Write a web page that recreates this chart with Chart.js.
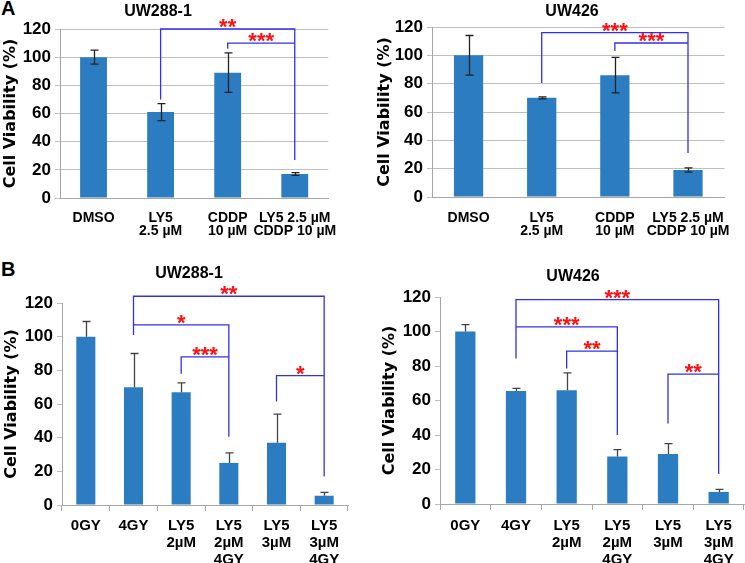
<!DOCTYPE html>
<html>
<head>
<meta charset="utf-8">
<script src="https://cdn.jsdelivr.net/npm/chart.js@4/dist/chart.umd.min.js"></script>
<style>
  body { margin: 0; background: #fff; width: 745px; height: 563px; position: relative; overflow: hidden;
         font-family: "Liberation Sans", Arial, sans-serif; }
  .panel { position: absolute; }
  .letter { position: absolute; font-weight: bold; font-size: 20px; line-height: 1; }
</style>
</head>
<body>
<div class="letter" style="left:1px;top:-2px;">A</div>
<div class="letter" style="left:1px;top:259px;">B</div>
<div class="panel" style="left:0;top:0;width:350px;height:250px"><canvas id="cA1"></canvas></div>
<div class="panel" style="left:372px;top:0;width:373px;height:250px"><canvas id="cA2"></canvas></div>
<div class="panel" style="left:0;top:250px;width:372px;height:313px"><canvas id="cB1"></canvas></div>
<div class="panel" style="left:372px;top:250px;width:373px;height:313px"><canvas id="cB2"></canvas></div>
<script>
// ---- data ----
const drugLabels = [['DMSO'], ['LY5', '2.5 µM'], ['CDDP', '10 µM'], ['LY5 2.5 µM', 'CDDP 10 µM']];
const uw288DrugMean = [100, 61, 89, 17];
const uw288DrugErr = [5, 6, 14, 1];
const uw426DrugMean = [100, 70, 86, 19];
const uw426DrugErr = [14, 0.7, 12.5, 1.5];

const radLabels = [['0GY'], ['4GY'], ['LY5', '2µM'], ['LY5', '2µM', '4GY'], ['LY5', '3µM'], ['LY5', '3µM', '4GY']];
const uw288RadMean = [100, 70, 67, 25, 37, 5.5];
const uw288RadErr = [9, 20, 5.5, 6, 17, 2];
const uw426RadMean = [100, 65.5, 66, 27.5, 29, 7];
const uw426RadErr = [4, 1.5, 10, 4, 6, 1.5];

const yTicks = [0, 20, 40, 60, 80, 100, 120];

// significance brackets: [fromIndex, toIndex, lineValue, fromEndValue, toEndValue, stars]
const uw288DrugSig = [[1, 3, 120, 70, 27, '**'], [2, 3, 110, 106, 110, '***']];
const uw426DrugSig = [[1, 3, 116, 80.5, 31, '***'], [2, 3, 108.7, 103, 108.7, '***']];
const uw288RadSig = [[1, 5, 124, 101, 17, '**'], [1, 3, 107, 107, 40.6, '*'],
                     [2, 3, 88, 78, 88, '***'], [4, 5, 76.8, 61.5, 76.8, '*']];
const uw426RadSig = [[1, 5, 118.5, 84.4, 17.4, '***'], [1, 3, 102.7, 102.7, 40, '***'],
                     [2, 3, 88.6, 78.6, 88.6, '**'], [4, 5, 75.3, 46.7, 75.3, '**']];

const FONT = '"Liberation Sans", Arial, sans-serif';
const WIDE = '"DejaVu Sans", sans-serif';
const BAR = '#2B7CC1';

const extras = {
  id: 'extras',
  afterDatasetsDraw(chart, args, o) {
    const ctx = chart.ctx, xs = chart.scales.x, ys = chart.scales.y;
    const mean = chart.data.datasets[0].data;
    ctx.save();
    // error bars
    ctx.strokeStyle = o.errColor;
    ctx.lineWidth = 1.3;
    mean.forEach((v, i) => {
      const cx = Math.round(xs.getPixelForValue(i)) + 0.5;
      const top = ys.getPixelForValue(v + o.err[i]);
      const bot = ys.getPixelForValue(o.upOnly ? v : v - o.err[i]);
      ctx.beginPath();
      ctx.moveTo(cx, top); ctx.lineTo(cx, bot);
      ctx.moveTo(cx - 4, top); ctx.lineTo(cx + 4, top);
      if (!o.upOnly) { ctx.moveTo(cx - 4, bot); ctx.lineTo(cx + 4, bot); }
      ctx.stroke();
    });
    // brackets
    ctx.strokeStyle = '#3030EE';
    ctx.lineWidth = 1.3;
    ctx.fillStyle = '#FF1010';
    ctx.font = 'bold 22px ' + FONT;
    ctx.textAlign = 'center';
    ctx.textBaseline = 'alphabetic';
    o.sig.forEach(([a, b, at, ea, eb, stars]) => {
      const xa = xs.getPixelForValue(a), xb = xs.getPixelForValue(b);
      const yl = ys.getPixelForValue(at);
      ctx.beginPath();
      ctx.moveTo(xa, ys.getPixelForValue(ea));
      ctx.lineTo(xa, yl);
      ctx.lineTo(xb, yl);
      ctx.lineTo(xb, ys.getPixelForValue(eb));
      ctx.stroke();
      ctx.fillText(stars, (xa + xb) / 2, yl + 5);
    });
    // panel title
    ctx.fillStyle = '#000';
    ctx.font = 'bold 16px ' + FONT;
    ctx.textBaseline = 'middle';
    ctx.fillText(o.title, o.tx, o.ty);
    ctx.restore();
  }
};

function makeChart(id, cfg) {
  const panelB = cfg.panelB;
  return new Chart(document.getElementById(id), {
    type: 'bar',
    data: {
      labels: cfg.labels,
      datasets: [{ data: cfg.mean, backgroundColor: BAR, borderWidth: 0,
                   categoryPercentage: 1, barPercentage: 0.4 }]
    },
    plugins: [extras],
    options: {
      responsive: true,
      maintainAspectRatio: false,
      animation: false,
      layout: { padding: cfg.pad },
      plugins: {
        legend: { display: false },
        tooltip: { enabled: false },
        extras: { err: cfg.err, sig: cfg.sig, upOnly: panelB,
                  errColor: panelB ? '#444' : '#222',
                  title: cfg.title, tx: cfg.tx, ty: cfg.ty }
      },
      scales: {
        x: {
          afterFit: s => { s.height = cfg.xh; },
          grid: { display: panelB, drawOnChartArea: false, drawTicks: panelB, tickLength: 6, color: '#A6A6A6' },
          border: { display: true, color: '#A6A6A6' },
          ticks: { color: '#000', maxRotation: 0, autoSkip: false, padding: cfg.xpad,
                   font: { family: FONT, weight: 'bold', size: panelB ? 15 : 14, lineHeight: panelB ? 1.13 : 0.98 } }
        },
        y: {
          min: 0, max: 120,
          afterFit: s => { s.width = cfg.yw; },
          afterBuildTicks: s => { s.ticks = yTicks.map(v => ({ value: v })); },
          grid: { drawOnChartArea: !panelB, color: '#BFBFBF', tickLength: 5 },
          border: { display: true, color: '#A6A6A6' },
          ticks: { color: '#000', padding: 4, font: { family: FONT, weight: 'bold', size: 17 } },
          title: { display: true, text: 'Cell Viability (%)', color: '#000', padding: { top: cfg.tpad },
                   font: { family: WIDE, weight: 'bold', size: 16 } }
        }
      }
    }
  });
}

makeChart('cA1', { labels: drugLabels, mean: uw288DrugMean, err: uw288DrugErr, sig: uw288DrugSig,
  title: 'UW288-1', tx: 158, ty: 12, pad: { left: 0, top: 29, right: 7, bottom: 0 },
  yw: 60, xh: 52, xpad: 13, tpad: 1.5, panelB: false });
makeChart('cA2', { labels: drugLabels, mean: uw426DrugMean, err: uw426DrugErr, sig: uw426DrugSig,
  title: 'UW426', tx: 200, ty: 12, pad: { left: 0, top: 27, right: 13, bottom: 0 },
  yw: 60, xh: 53, xpad: 14, tpad: 3.5, panelB: false });
makeChart('cB1', { labels: radLabels, mean: uw288RadMean, err: uw288RadErr, sig: uw288RadSig,
  title: 'UW288-1', tx: 189, ty: 24, pad: { left: 0, top: 53, right: 24, bottom: 0 },
  yw: 62, xh: 58, xpad: 6, tpad: 2.5, panelB: true });
makeChart('cB2', { labels: radLabels, mean: uw426RadMean, err: uw426RadErr, sig: uw426RadSig,
  title: 'UW426', tx: 201, ty: 27, pad: { left: 0, top: 47, right: 1, bottom: 0 },
  yw: 68, xh: 59, xpad: 7, tpad: 8.5, panelB: true });
</script>
</body>
</html>
